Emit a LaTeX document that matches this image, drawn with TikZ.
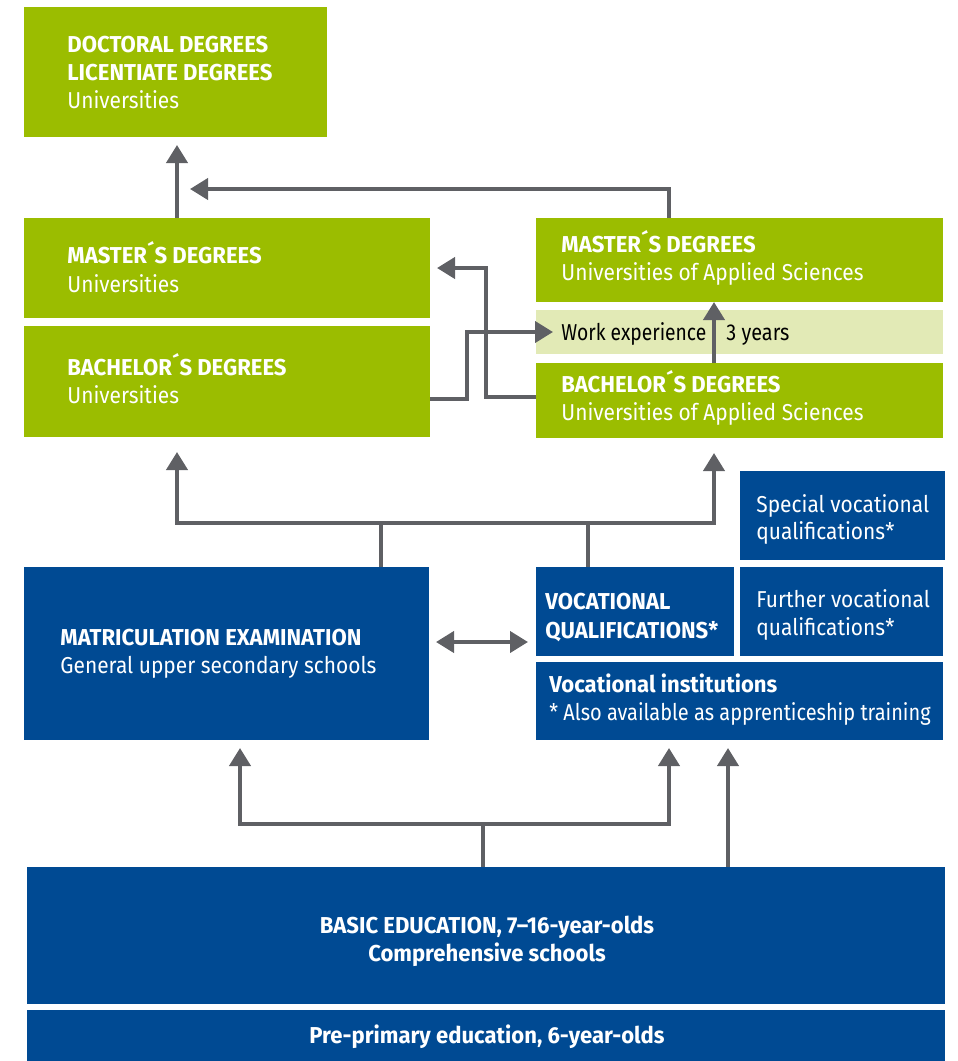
\documentclass[tikz,border=0pt]{standalone}
\usepackage{fontspec}
\usepackage{graphicx}
\setmainfont{Fira Sans}[FakeStretch=0.91, BoldFeatures={FakeStretch=0.96}]
\usetikzlibrary{fit,calc,arrows.meta}
\definecolor{fgreen}{RGB}{155,189,0}
\definecolor{fblue}{RGB}{0,74,147}
\definecolor{fband}{RGB}{226,234,182}
\definecolor{fgray}{RGB}{95,96,100}
\tikzset{
  box/.style={inner sep=0pt, outer sep=0pt, draw=none},
  gbox/.style={box, fill=fgreen},
  bbox/.style={box, fill=fblue},
  lbox/.style={box, fill=fband},
  txt/.style={anchor=base west, inner sep=0pt, text=white, font=\fontsize{11.5}{14}\selectfont},
  hd/.style={txt, font=\fontsize{11.5}{14}\selectfont\bfseries},
  ctr/.style={anchor=base, inner sep=0pt, text=white, font=\fontsize{11.5}{14}\selectfont\bfseries},
  conn/.style={draw=fgray, line width=2pt},
  arr/.style={conn, -{Triangle[length=9pt,width=10.5pt]}},
  dblarr/.style={conn, {Triangle[length=9pt,width=10.5pt]}-{Triangle[length=9pt,width=10.5pt]}},
}
\begin{document}
\begin{tikzpicture}[x=0.5pt,y=-0.5pt]
\useasboundingbox (0,0) rectangle (958,1061);
% boxes
\node[gbox, fit={(24,7)(327,137)}] (doc) {};
\node[gbox, fit={(24,218)(430,318)}] (mu) {};
\node[gbox, fit={(24,326)(430,437)}] (bu) {};
\node[gbox, fit={(536,218)(943,302)}] (mua) {};
\node[lbox, fit={(536,310)(943,354)}] (wk) {};
\node[gbox, fit={(536,363)(943,438)}] (bua) {};
\node[bbox, fit={(740,471)(945,560)}] (spec) {};
\node[bbox, fit={(24,567)(429,740)}] (mat) {};
\node[bbox, fit={(536,567)(734,656)}] (vq) {};
\node[bbox, fit={(740,567)(943,656)}] (fur) {};
\node[bbox, fit={(536,662)(943,740)}] (inst) {};
\node[bbox, fit={(27,867)(945,1004)}] (bas) {};
\node[bbox, fit={(27,1010)(945,1061)}] (pre) {};
% texts
\node[hd] (t1) at (67,52) {DOCTORAL DEGREES};
\node[hd] (t2) at (67,80) {LICENTIATE DEGREES};
\node[txt] (t3) at (67,108) {Universities};
\node[hd] (t4) at (67,263) {MASTER´S DEGREES};
\node[txt] (t5) at (67,292) {Universities};
\node[hd] (t6) at (67,375) {BACHELOR´S DEGREES};
\node[txt] (t7) at (67,403) {Universities};
\node[hd] (t8) at (561,252) {MASTER´S DEGREES};
\node[txt] (t9) at (561,280) {Universities of Applied Sciences};
\node[txt, text=black] (t10) at (561,340) {\scalebox{0.92}[1]{Work experience}};
\node[txt, text=black] (t11) at (726,340) {\scalebox{0.95}[1]{3 years}};
\node[hd] (t12) at (561,392) {BACHELOR´S DEGREES};
\node[txt] (t13) at (561,420) {Universities of Applied Sciences};
\node[txt] (t14) at (756,512) {Special vocational};
\node[txt] (t15) at (756,539) {qualifications*};
\node[hd] (t16) at (60,645) {MATRICULATION EXAMINATION};
\node[txt] (t17) at (60,673) {General upper secondary schools};
\node[hd] (t18) at (545,609) {VOCATIONAL};
\node[hd] (t19) at (545,638) {QUALIFICATIONS*};
\node[txt] (t20) at (756,607) {Further vocational};
\node[txt] (t21) at (756,635) {qualifications*};
\node[hd] (t22) at (549,692) {Vocational institutions};
\node[txt] (t23) at (549,720) {\scalebox{0.955}[1]{* Also available as apprenticeship training}};
\node[ctr] (t24) at (487,933) {BASIC EDUCATION, 7–16-year-olds};
\node[ctr] (t25) at (487,961) {Comprehensive schools};
\node[ctr] (t26) at (487,1043) {Pre-primary education, 6-year-olds};
% coordinates
\coordinate (tipA) at (190,189);
\coordinate (jL) at (177,523);
\coordinate (jR) at (714,523);
\coordinate (kL) at (240,824);
\coordinate (kR) at (669,824);
% connectors
\draw[arr] ($(mu.north west)+(153,0)$) -- ($(doc.south west)+(153,8)$);
\draw[arr] ($(mua.north west)+(133,0)$) |- (tipA);
\draw[arr] ($(bu.north east)+(0,73)$) -| ($(wk.west)+(-69,0)$) -- ($(wk.west)+(17,0)$);
\draw[arr] ($(bua.north west)+(0,34)$) -| ($(mu.east)+(56,0)$) -- ($(mu.east)+(7,0)$);
\draw[arr] ($(bua.north west)+(178,0)$) -- (mua.south west -| jR);
\draw[dblarr] ($(bu.south west)+(153,15)$) -- (jL) -- (jR) -- ($(bua.south west)+(178,15)$);
\draw[conn] ($(mat.north west)+(357,0)$) -- (jL -| {$(mat.north west)+(357,0)$});
\draw[conn] ($(vq.north west)+(52,0)$) -- (jL -| {$(vq.north west)+(52,0)$});
\draw[dblarr] ($(mat.north east)+(7,75)$) -- ($(vq.north west)+(-8,75)$);
\draw[dblarr] ($(mat.south west)+(216,8)$) -- (kL) -- (kR) -- ($(inst.south west)+(133,8)$);
\draw[conn] ($(bas.north west)+(456,0)$) -- (kL -| {$(bas.north west)+(456,0)$});
\draw[arr] ($(bas.north west)+(701,0)$) -- ($(inst.south west)+(192,8)$);
\end{tikzpicture}
\end{document}
